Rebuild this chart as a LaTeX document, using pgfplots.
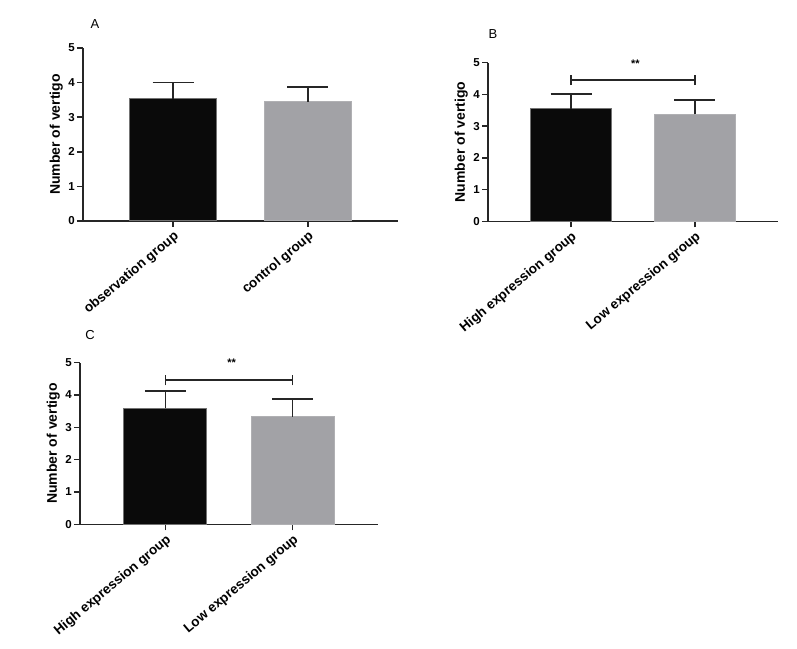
\documentclass[border=0pt]{standalone}
\usepackage{fontspec}
\setmainfont{Liberation Sans}
\usepackage{pgfplots}
\pgfplotsset{compat=1.18}
\definecolor{barblack}{RGB}{10,10,10}
\definecolor{bargray}{RGB}{162,162,166}
\pgfplotsset{
  panel/.style={
    scale only axis,
    clip=false,
    axis lines=left,
    axis line style={-, line width=1.5pt, black!85},
    xmin=-0.67, xmax=1.67,
    ymin=0, ymax=5,
    ytick={0,1,2,3,4,5},
    xtick={0,1},
    tick align=outside,
    major tick length=6pt,
    tick style={line width=1.5pt, black!85},
    /pgf/number format/assume math mode=true,
    yticklabel style={font=\fontsize{11.5}{13}\selectfont\bfseries, inner sep=2pt},
    xticklabel style={font=\fontsize{13.5}{15}\selectfont\bfseries, rotate=40, anchor=north east, inner sep=2pt},
    ylabel style={font=\fontsize{14}{16}\selectfont\bfseries},
    ylabel={Number of vertigo},
    bar width=0.65,
  },
  blackbar/.style={ybar, bar shift=0pt, fill=barblack, draw=black!55, line width=1pt,
    error bars/.cd, y dir=plus, y explicit,
    error bar style={line width=1.5pt, black!85},
    error mark options={rotate=90, line width=1.5pt, black!85, mark size=20.5pt}},
  graybar/.style={ybar, bar shift=0pt, fill=bargray, draw=bargray!85!white, line width=1pt,
    error bars/.cd, y dir=plus, y explicit,
    error bar style={line width=1.5pt, black!85},
    error mark options={rotate=90, line width=1.5pt, black!85, mark size=20.5pt}},
  bracket/.style={black!85, line width=1.5pt, forget plot},
}
\begin{document}
\begin{tikzpicture}
\path (0,0) rectangle (797pt,648pt);
% Panel A
\begin{axis}[panel, at={(83pt,427pt)}, anchor=south west, width=315pt, height=173pt,
  xticklabels={observation group, control group}]
\addplot[blackbar] coordinates {(0,3.53) +- (0,0.48)};
\addplot[graybar] coordinates {(1,3.45) +- (0,0.43)};
\end{axis}
\node[font=\fontsize{13}{15}\selectfont] at (95pt,624pt) {A};
% Panel B
\begin{axis}[panel, at={(488pt,426.7pt)}, anchor=south west, width=290pt, height=158.6pt,
  xticklabels={High expression group, Low expression group}]
\addplot[blackbar] coordinates {(0,3.55) +- (0,0.46)};
\addplot[graybar] coordinates {(1,3.37) +- (0,0.45)};
\addplot[bracket] coordinates {(0,4.45) (1,4.45)};
\addplot[bracket] coordinates {(0,4.29) (0,4.61)};
\addplot[bracket] coordinates {(1,4.29) (1,4.61)};
\node[font=\fontsize{11}{13}\selectfont\bfseries, anchor=base] at (axis cs:0.52,4.86) {**};
\end{axis}
\node[font=\fontsize{13}{15}\selectfont] at (493pt,614pt) {B};
% Panel C
\begin{axis}[panel, at={(80pt,123.7pt)}, anchor=south west, width=298pt, height=161.6pt,
  xticklabels={High expression group, Low expression group}]
\addplot[blackbar] coordinates {(0,3.59) +- (0,0.53)};
\addplot[graybar] coordinates {(1,3.33) +- (0,0.55)};
\addplot[bracket] coordinates {(0,4.46) (1,4.46)};
\addplot[bracket] coordinates {(0,4.30) (0,4.62)};
\addplot[bracket] coordinates {(1,4.30) (1,4.62)};
\node[font=\fontsize{11}{13}\selectfont\bfseries, anchor=base] at (axis cs:0.52,4.88) {**};
\end{axis}
\node[font=\fontsize{13}{15}\selectfont] at (90pt,313pt) {C};
\end{tikzpicture}
\end{document}
